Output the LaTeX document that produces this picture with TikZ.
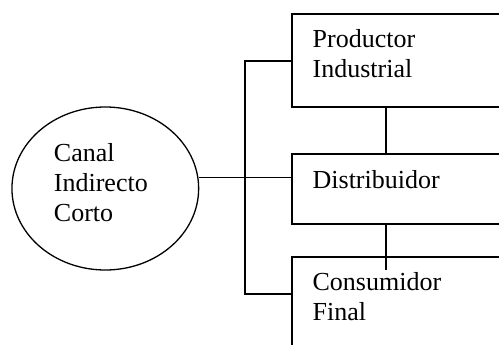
\documentclass[tikz,border=0pt]{standalone}
\usepackage{fontspec}
\setmainfont{Liberation Serif}
\usetikzlibrary{shapes.geometric}
\begin{document}
\begin{tikzpicture}[x=1pt,y=-1pt,line width=1.3pt,
    caja/.style={draw,rectangle,inner sep=0pt},
    texto/.style={align=left,anchor=base west,inner sep=0pt,font=\fontsize{26}{30}\selectfont}]
  \fill[white] (0,0) rectangle (499,345);
  \useasboundingbox (0,0) rectangle (499,345);
  \draw
    (105.3,188.5) node[ellipse,draw,minimum width=186.7pt,minimum height=163pt] (canal){}
    (426,60.5) node[caja,minimum width=268pt,minimum height=93pt] (prod){}
    (426,189) node[caja,minimum width=268pt,minimum height=70pt] (dist){}
    (426,318.5) node[caja,minimum width=268pt,minimum height=123pt] (cons){};
  % la ancla base es la de la ultima linea
  \node[texto] (tcanal) at (53.3,221.9) {Canal\\Indirecto\\Corto};
  \node[texto] (tprod) at (312,77.7) {Productor\\Industrial};
  \node[texto] (tdist) at (312,188.3) {Distribuidor};
  \node[texto] (tcons) at (312,320.7) {Consumidor\\Final};
  % bus vertical y enlaces
  \coordinate (hub) at (245,177.3);
  \coordinate (arriba) at (245,61);
  \coordinate (abajo) at (245,294);
  \coordinate (eje) at (386,0);
  \coordinate (fin) at (386,270);
  \draw (canal.east |- hub) -- (hub -| dist.west);
  \draw (arriba -| prod.west) -- (arriba) -- (abajo) -- (abajo -| cons.west);
  \draw (prod.south -| eje) -- (dist.north -| eje);
  \draw (dist.south -| eje) -- (fin);
\end{tikzpicture}
\end{document}
